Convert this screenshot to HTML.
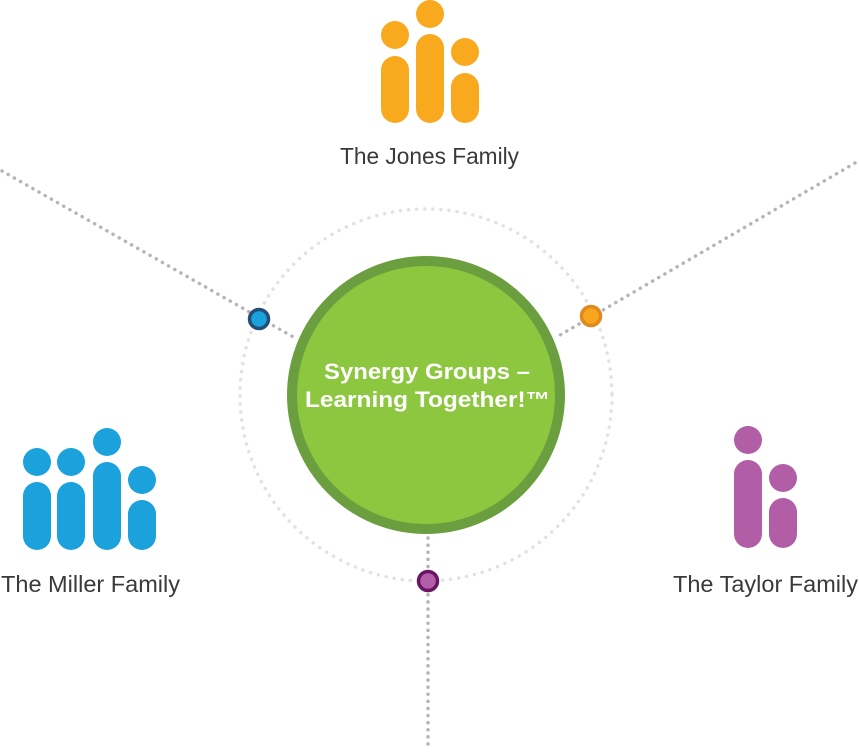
<!DOCTYPE html>
<html><head><style>
html,body{margin:0;padding:0;background:#fff;width:859px;height:752px;overflow:hidden}
</style></head><body>
<svg width="859" height="752" viewBox="0 0 859 752" xmlns="http://www.w3.org/2000/svg">
<g stroke="#b5b5b5" stroke-width="3.5" stroke-dasharray="0.1 7" stroke-linecap="round" fill="none">
<line x1="2" y1="171" x2="295" y2="338"/>
<line x1="855" y1="163" x2="555" y2="338"/>
<line x1="428" y1="538" x2="428" y2="748"/>
</g>
<circle cx="426" cy="395" r="186" fill="none" stroke="#e2e2e2" stroke-width="3.5" stroke-dasharray="0.1 8" stroke-linecap="round"/>
<circle cx="426" cy="395" r="134" fill="#8dc63f" stroke="#6b9e3f" stroke-width="10"/>
<text x="324" y="379" textLength="206" lengthAdjust="spacingAndGlyphs" font-family="'Liberation Sans',sans-serif" font-weight="bold" font-size="22" fill="#fff">Synergy Groups –</text>
<text x="305" y="407" textLength="245" lengthAdjust="spacingAndGlyphs" font-family="'Liberation Sans',sans-serif" font-weight="bold" font-size="22" fill="#fff">Learning Together!™</text>
<circle cx="259" cy="319" r="9.5" fill="#1ba1db" stroke="#254e77" stroke-width="3.5"/>
<circle cx="591" cy="316" r="9.5" fill="#f9a61e" stroke="#e0891f" stroke-width="3.5"/>
<circle cx="428" cy="581" r="9.5" fill="#b25ea8" stroke="#6a1463" stroke-width="3.5"/>
<g fill="#f9a91e">
<circle cx="395" cy="35" r="14"/><rect x="381" y="56" width="28" height="67" rx="14"/>
<circle cx="430" cy="14" r="14"/><rect x="416" y="34" width="28" height="89" rx="14"/>
<circle cx="465" cy="52" r="14"/><rect x="451" y="73" width="28" height="50" rx="14"/>
</g>
<g fill="#1ba1db">
<circle cx="37" cy="462" r="14"/><rect x="23" y="482" width="28" height="68" rx="14"/>
<circle cx="71" cy="462" r="14"/><rect x="57" y="482" width="28" height="68" rx="14"/>
<circle cx="107" cy="442" r="14"/><rect x="93" y="462" width="28" height="88" rx="14"/>
<circle cx="142" cy="480" r="14"/><rect x="128" y="500" width="28" height="50" rx="14"/>
</g>
<g fill="#b15ea7">
<circle cx="748" cy="440" r="14"/><rect x="734" y="460" width="28" height="88" rx="14"/>
<circle cx="783" cy="478" r="14"/><rect x="769" y="498" width="28" height="50" rx="14"/>
</g>
<g font-family="'Liberation Sans',sans-serif" font-size="23" fill="#3a3a3a" lengthAdjust="spacingAndGlyphs">
<text x="340" y="164" textLength="179" lengthAdjust="spacingAndGlyphs">The Jones Family</text>
<text x="1" y="592" textLength="179" lengthAdjust="spacingAndGlyphs">The Miller Family</text>
<text x="673" y="592" textLength="185" lengthAdjust="spacingAndGlyphs">The Taylor Family</text>
</g>
</svg>
</body></html>
